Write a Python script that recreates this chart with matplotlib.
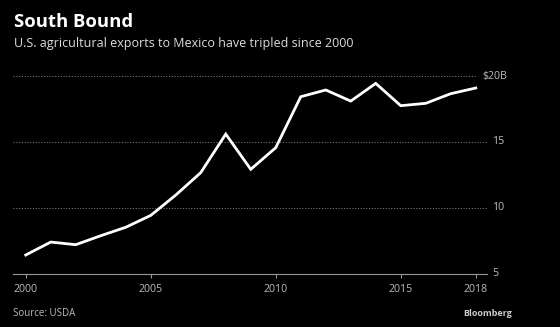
import matplotlib
matplotlib.use("Agg")
import matplotlib.pyplot as plt

years = list(range(2000, 2019))
exports = [6.44, 7.42, 7.22, 7.9, 8.54, 9.44, 10.98, 12.68, 15.6, 12.93,
           14.57, 18.43, 18.94, 18.1, 19.44, 17.75, 17.93, 18.66, 19.09]
x_ticks = [2000, 2005, 2010, 2015, 2018]
y_ticks = [5, 10, 15, 20]
y_labels = ["5", "10", "15", "$20B"]

plt.rcParams['font.family'] = ['Open Sans', 'DejaVu Sans']
W, H = 560, 327
fig = plt.figure(figsize=(W / 100, H / 100), dpi=100, facecolor='black')
ax = fig.add_axes([13 / W, 1 - 274 / H, (487 - 13) / W, (274 - 76) / H])
ax.set_facecolor('black')
ax.set_xlim(1999.49, 2018.45)
ax.set_ylim(5, 20)

for v in y_ticks[1:]:
    xmax = (475 - 13) / (487 - 13) if v == 20 else 1.0
    ax.axhline(v, xmin=0, xmax=xmax, color='#777777', lw=0.8, ls=(0, (1, 1.5)), zorder=1)

ax.plot(years, exports, color='white', lw=2, solid_joinstyle='miter', clip_on=False, zorder=3)

for s in ['top', 'right', 'left']:
    ax.spines[s].set_visible(False)
ax.spines['bottom'].set_color('#999999')
ax.spines['bottom'].set_linewidth(0.8)
ax.set_yticks([])
ax.set_xticks(x_ticks)
ax.set_xticklabels([str(t) for t in x_ticks])
ax.tick_params(axis='x', colors='#999999', labelcolor='#bbbbbb', labelsize=7.7, length=3, width=0.8, pad=4)

for v, lab in zip(y_ticks, y_labels):
    dx = -7 if lab.startswith('$') else 0
    ax.annotate(lab, xy=(1, v), xycoords=('axes fraction', 'data'),
                xytext=(3.5 + dx, 0), textcoords='offset points',
                ha='left', va='center', color='#bbbbbb', fontsize=7.7)

fig.text(14 / W, 1 - 22 / H, "South Bound", color='white', fontsize=13.3, fontweight='bold', va='center', ha='left')
fig.text(14 / W, 1 - 44 / H, "U.S. agricultural exports to Mexico have tripled since 2000",
         color='#dddddd', fontsize=9, va='center', ha='left')
fig.text(13 / W, 1 - 313 / H, "Source: USDA", color='#bbbbbb', fontsize=7, va='center', ha='left')
fig.text(512 / W, 1 - 313 / H, "Bloomberg", color='#cccccc', fontsize=6.5, fontweight='bold', va='center', ha='right')

fig.savefig('out.png', dpi=100, facecolor='black')
